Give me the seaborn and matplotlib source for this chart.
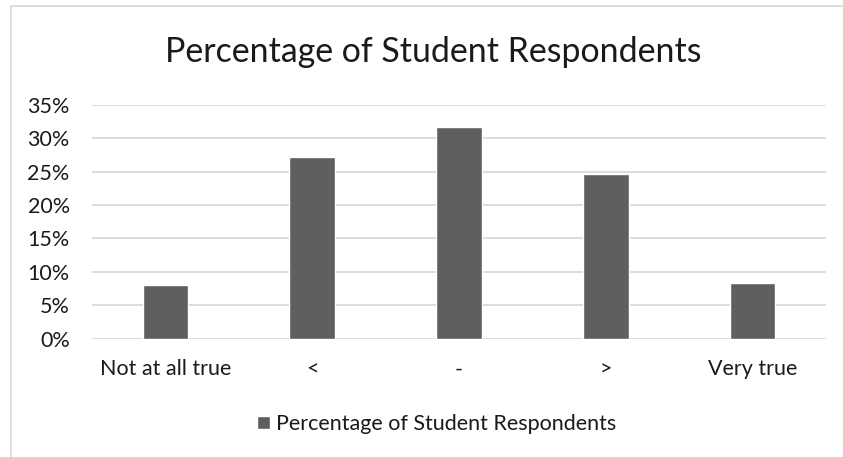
import pandas as pd
import seaborn as sns
import matplotlib.pyplot as plt
from matplotlib.patches import Rectangle
from matplotlib.ticker import FuncFormatter

# Data
categories = ['Not at all true', '<', '-', '>', 'Very true']
percentages = [8.0, 27.1, 31.6, 24.6, 8.3]
series_name = 'Percentage of Student Respondents'

df = pd.DataFrame({'answer': categories, 'pct': [p / 100 for p in percentages]})

sns.set_theme(style='white')
plt.rcParams['font.family'] = ['Lato', 'DejaVu Sans']

bar_color = '#5f5f5f'
grid_color = '#d9d9d9'
text_color = '#1a1a1a'

fig = plt.figure(figsize=(8.43, 4.57), dpi=100)
ax = fig.add_axes([0.109, 0.259, 0.871, 0.512])

sns.barplot(data=df, x='answer', y='pct', color=bar_color, saturation=1,
            width=0.31, ax=ax, label=series_name, zorder=3)

# Axis styling in the spirit of an office chart
ax.set_ylim(0, 0.35)
ax.set_yticks([i * 0.05 for i in range(8)])
ax.yaxis.set_major_formatter(FuncFormatter(lambda v, _: f'{v * 100:.0f}%'))
ax.grid(axis='y', color=grid_color, linewidth=1.3, zorder=0)
ax.set_xlabel('')
ax.set_ylabel('')
for s in ax.spines.values():
    s.set_visible(False)
ax.tick_params(axis='y', length=0, pad=16, labelsize=15.5, labelcolor=text_color)
ax.tick_params(axis='x', length=0, pad=15, labelsize=15.5, labelcolor=text_color)

# Title and legend
fig.text(0.514, 0.887, series_name, ha='center', va='center', fontsize=24.4,
         color=text_color)
leg = ax.get_legend()
if leg is not None:
    leg.remove()
handles, labels = ax.get_legend_handles_labels()
fig.legend(handles[:1], [series_name], loc='center', bbox_to_anchor=(0.518, 0.072),
           frameon=False, fontsize=15.5, handlelength=0.6, handleheight=0.6,
           handletextpad=0.25, labelcolor=text_color)

# Chart border (only the left and top edges show in the reference)
fig.patches.append(Rectangle((11 / 843, -0.1), 1.2, 1.1 - 6 / 457,
                             transform=fig.transFigure, fill=False,
                             edgecolor=grid_color, linewidth=1.3))

fig.savefig('out.png', dpi=100)
